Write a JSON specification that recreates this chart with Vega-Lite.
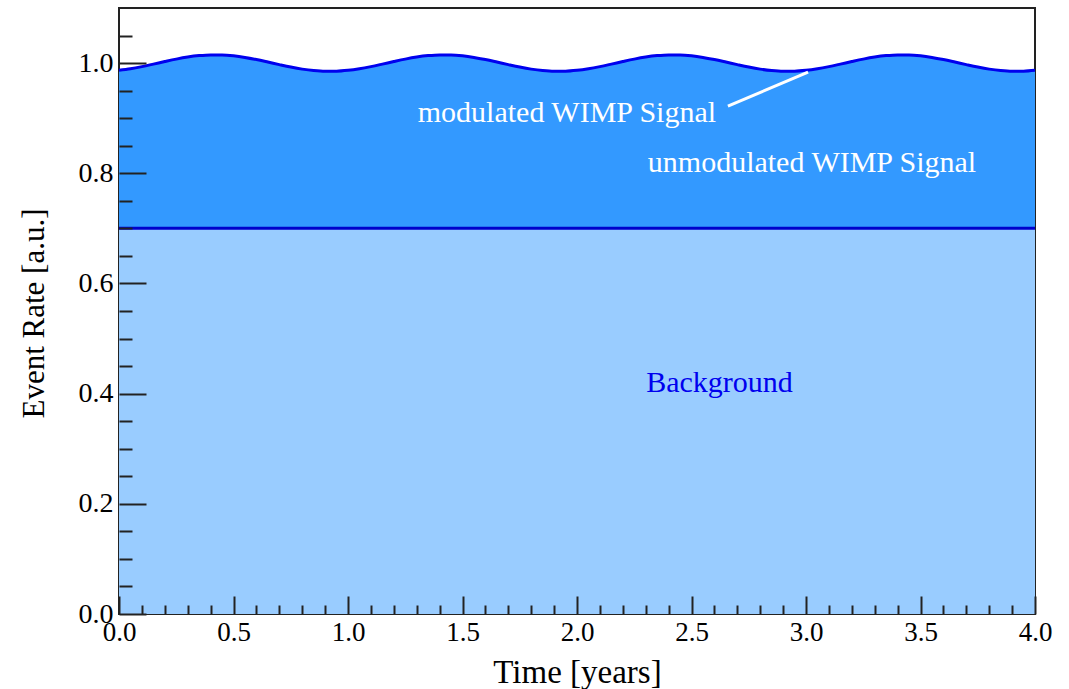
{
  "$schema": "https://vega.github.io/schema/vega-lite/v6.json",
  "width": 916,
  "height": 606,
  "autosize": "none",
  "padding": {"left": 119, "top": 8, "right": 34, "bottom": 75},
  "background": "white",
  "config": {
    "view": {"stroke": "#222222", "strokeWidth": 2},
    "font": "Liberation Serif",
    "axis": {
      "labelFont": "Liberation Serif",
      "titleFont": "Liberation Serif",
      "labelColor": "#000000",
      "titleColor": "#000000",
      "labelFontSize": 28,
      "titleFontSize": 32,
      "titleFontWeight": "normal",
      "tickColor": "#222222",
      "tickWidth": 2,
      "labelFlush": false,
      "labelOverlap": false,
      "domain": false,
      "grid": false
    }
  },
  "datasets": {
    "rates": [
      {"t": 0.00, "bg": 0.7, "rate": 0.98686},
      {"t": 0.05, "bg": 0.7, "rate": 0.98973},
      {"t": 0.10, "bg": 0.7, "rate": 0.99361},
      {"t": 0.15, "bg": 0.7, "rate": 0.99812},
      {"t": 0.20, "bg": 0.7, "rate": 1.00281},
      {"t": 0.25, "bg": 0.7, "rate": 1.00723},
      {"t": 0.30, "bg": 0.7, "rate": 1.01094},
      {"t": 0.35, "bg": 0.7, "rate": 1.01357},
      {"t": 0.40, "bg": 0.7, "rate": 1.01488},
      {"t": 0.45, "bg": 0.7, "rate": 1.01473},
      {"t": 0.50, "bg": 0.7, "rate": 1.01314},
      {"t": 0.55, "bg": 0.7, "rate": 1.01027},
      {"t": 0.60, "bg": 0.7, "rate": 1.00639},
      {"t": 0.65, "bg": 0.7, "rate": 1.00188},
      {"t": 0.70, "bg": 0.7, "rate": 0.99719},
      {"t": 0.75, "bg": 0.7, "rate": 0.99277},
      {"t": 0.80, "bg": 0.7, "rate": 0.98906},
      {"t": 0.85, "bg": 0.7, "rate": 0.98643},
      {"t": 0.90, "bg": 0.7, "rate": 0.98512},
      {"t": 0.95, "bg": 0.7, "rate": 0.98527},
      {"t": 1.00, "bg": 0.7, "rate": 0.98686},
      {"t": 1.05, "bg": 0.7, "rate": 0.98973},
      {"t": 1.10, "bg": 0.7, "rate": 0.99361},
      {"t": 1.15, "bg": 0.7, "rate": 0.99812},
      {"t": 1.20, "bg": 0.7, "rate": 1.00281},
      {"t": 1.25, "bg": 0.7, "rate": 1.00723},
      {"t": 1.30, "bg": 0.7, "rate": 1.01094},
      {"t": 1.35, "bg": 0.7, "rate": 1.01357},
      {"t": 1.40, "bg": 0.7, "rate": 1.01488},
      {"t": 1.45, "bg": 0.7, "rate": 1.01473},
      {"t": 1.50, "bg": 0.7, "rate": 1.01314},
      {"t": 1.55, "bg": 0.7, "rate": 1.01027},
      {"t": 1.60, "bg": 0.7, "rate": 1.00639},
      {"t": 1.65, "bg": 0.7, "rate": 1.00188},
      {"t": 1.70, "bg": 0.7, "rate": 0.99719},
      {"t": 1.75, "bg": 0.7, "rate": 0.99277},
      {"t": 1.80, "bg": 0.7, "rate": 0.98906},
      {"t": 1.85, "bg": 0.7, "rate": 0.98643},
      {"t": 1.90, "bg": 0.7, "rate": 0.98512},
      {"t": 1.95, "bg": 0.7, "rate": 0.98527},
      {"t": 2.00, "bg": 0.7, "rate": 0.98686},
      {"t": 2.05, "bg": 0.7, "rate": 0.98973},
      {"t": 2.10, "bg": 0.7, "rate": 0.99361},
      {"t": 2.15, "bg": 0.7, "rate": 0.99812},
      {"t": 2.20, "bg": 0.7, "rate": 1.00281},
      {"t": 2.25, "bg": 0.7, "rate": 1.00723},
      {"t": 2.30, "bg": 0.7, "rate": 1.01094},
      {"t": 2.35, "bg": 0.7, "rate": 1.01357},
      {"t": 2.40, "bg": 0.7, "rate": 1.01488},
      {"t": 2.45, "bg": 0.7, "rate": 1.01473},
      {"t": 2.50, "bg": 0.7, "rate": 1.01314},
      {"t": 2.55, "bg": 0.7, "rate": 1.01027},
      {"t": 2.60, "bg": 0.7, "rate": 1.00639},
      {"t": 2.65, "bg": 0.7, "rate": 1.00188},
      {"t": 2.70, "bg": 0.7, "rate": 0.99719},
      {"t": 2.75, "bg": 0.7, "rate": 0.99277},
      {"t": 2.80, "bg": 0.7, "rate": 0.98906},
      {"t": 2.85, "bg": 0.7, "rate": 0.98643},
      {"t": 2.90, "bg": 0.7, "rate": 0.98512},
      {"t": 2.95, "bg": 0.7, "rate": 0.98527},
      {"t": 3.00, "bg": 0.7, "rate": 0.98686},
      {"t": 3.05, "bg": 0.7, "rate": 0.98973},
      {"t": 3.10, "bg": 0.7, "rate": 0.99361},
      {"t": 3.15, "bg": 0.7, "rate": 0.99812},
      {"t": 3.20, "bg": 0.7, "rate": 1.00281},
      {"t": 3.25, "bg": 0.7, "rate": 1.00723},
      {"t": 3.30, "bg": 0.7, "rate": 1.01094},
      {"t": 3.35, "bg": 0.7, "rate": 1.01357},
      {"t": 3.40, "bg": 0.7, "rate": 1.01488},
      {"t": 3.45, "bg": 0.7, "rate": 1.01473},
      {"t": 3.50, "bg": 0.7, "rate": 1.01314},
      {"t": 3.55, "bg": 0.7, "rate": 1.01027},
      {"t": 3.60, "bg": 0.7, "rate": 1.00639},
      {"t": 3.65, "bg": 0.7, "rate": 1.00188},
      {"t": 3.70, "bg": 0.7, "rate": 0.99719},
      {"t": 3.75, "bg": 0.7, "rate": 0.99277},
      {"t": 3.80, "bg": 0.7, "rate": 0.98906},
      {"t": 3.85, "bg": 0.7, "rate": 0.98643},
      {"t": 3.90, "bg": 0.7, "rate": 0.98512},
      {"t": 3.95, "bg": 0.7, "rate": 0.98527},
      {"t": 4.00, "bg": 0.7, "rate": 0.98686}
    ],
    "labels": [
      {"t": 1.956, "y": 0.8927, "text": "modulated WIMP Signal", "kind": "signal"},
      {"t": 3.026, "y": 0.8018, "text": "unmodulated WIMP Signal", "kind": "signal"},
      {"t": 2.622, "y": 0.4036, "text": "Background", "kind": "background"}
    ],
    "pointer": [
      {"t": 2.659, "y": 0.922, "t2": 3.009, "y2": 0.9836}
    ]
  },
  "resolve": {"axis": {"x": "independent", "y": "independent"}},
  "layer": [
    {
      "data": {"name": "rates"},
      "mark": {"type": "area", "color": "#99ccff", "interpolate": "monotone"},
      "encoding": {
        "x": {
          "field": "t", "type": "quantitative",
          "scale": {"domain": [0, 4], "nice": false, "zero": false},
          "axis": {
            "orient": "bottom",
            "zindex": 2,
            "title": "Time [years]",
            "titleFontSize": 33,
            "titleBaseline": "alphabetic",
            "titleY": 68,
            "values": [0, 0.5, 1, 1.5, 2, 2.5, 3, 3.5, 4],
            "format": ".1f",
            "labelFontSize": 27,
            "tickSize": -18,
            "labelPadding": 23
          }
        },
        "y": {
          "field": "bg", "type": "quantitative",
          "scale": {"domain": [0, 1.1], "nice": false},
          "axis": {
            "orient": "left",
            "zindex": 2,
            "title": "Event Rate [a.u.]",
            "titleFontSize": 31,
            "titleBaseline": "alphabetic",
            "titleX": -76,
            "titleY": 305,
            "values": [0, 0.2, 0.4, 0.6, 0.8, 1.0],
            "format": ".1f",
            "tickSize": -27,
            "labelPadding": 33
          }
        },
        "y2": {"datum": 0}
      }
    },
    {
      "data": {"name": "rates"},
      "mark": {"type": "area", "color": "#3399ff", "interpolate": "monotone"},
      "encoding": {
        "x": {
          "field": "t", "type": "quantitative",
          "axis": {
            "orient": "bottom",
            "zindex": 2,
            "title": null,
            "labels": false,
            "values": [0.1, 0.2, 0.3, 0.4, 0.6, 0.7, 0.8, 0.9, 1.1, 1.2, 1.3, 1.4, 1.6, 1.7, 1.8, 1.9, 2.1, 2.2, 2.3, 2.4, 2.6, 2.7, 2.8, 2.9, 3.1, 3.2, 3.3, 3.4, 3.6, 3.7, 3.8, 3.9],
            "tickSize": -9
          }
        },
        "y": {
          "field": "rate", "type": "quantitative",
          "axis": {
            "orient": "left",
            "zindex": 2,
            "title": null,
            "labels": false,
            "values": [0.05, 0.1, 0.15, 0.25, 0.3, 0.35, 0.45, 0.5, 0.55, 0.65, 0.7, 0.75, 0.85, 0.9, 0.95, 1.05],
            "tickSize": -13
          }
        },
        "y2": {"field": "bg"}
      }
    },
    {
      "data": {"name": "rates"},
      "mark": {"type": "line", "color": "#0000cc", "strokeWidth": 3},
      "encoding": {
        "x": {"field": "t", "type": "quantitative", "axis": null},
        "y": {"field": "bg", "type": "quantitative", "axis": null}
      }
    },
    {
      "data": {"name": "rates"},
      "mark": {"type": "line", "color": "#0000ee", "strokeWidth": 3, "interpolate": "monotone"},
      "encoding": {
        "x": {"field": "t", "type": "quantitative", "axis": null},
        "y": {"field": "rate", "type": "quantitative", "axis": null}
      }
    },
    {
      "data": {"name": "pointer"},
      "mark": {"type": "rule", "color": "white", "strokeWidth": 3},
      "encoding": {
        "x": {"field": "t", "type": "quantitative", "axis": null},
        "y": {"field": "y", "type": "quantitative", "axis": null},
        "x2": {"field": "t2"},
        "y2": {"field": "y2"}
      }
    },
    {
      "data": {"name": "labels"},
      "mark": {"type": "text", "font": "Liberation Serif", "fontSize": 30, "align": "center", "baseline": "alphabetic"},
      "encoding": {
        "x": {"field": "t", "type": "quantitative", "axis": null},
        "y": {"field": "y", "type": "quantitative", "axis": null},
        "text": {"field": "text"},
        "color": {
          "field": "kind", "type": "nominal",
          "scale": {"domain": ["signal", "background"], "range": ["#ffffff", "#0000ee"]},
          "legend": null
        }
      }
    }
  ]
}
